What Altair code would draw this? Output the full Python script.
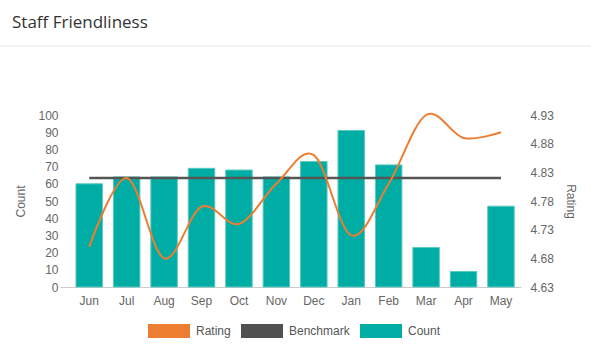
import altair as alt
import pandas as pd

months = ["Jun", "Jul", "Aug", "Sep", "Oct", "Nov", "Dec", "Jan", "Feb", "Mar", "Apr", "May"]
counts = [60, 64, 64, 69, 68, 64, 73, 91, 71, 23, 9, 47]
ratings = [4.70, 4.82, 4.68, 4.77, 4.74, 4.81, 4.86, 4.72, 4.81, 4.93, 4.89, 4.90]
benchmark = [4.82, 4.82, 4.82, 4.82, 4.82, 4.82, 4.82, 4.82, 4.82, 4.82, 4.82, 4.82]
count_ticks = [0, 10, 20, 30, 40, 50, 60, 70, 80, 90, 100]
rating_ticks = [4.63, 4.68, 4.73, 4.78, 4.83, 4.88, 4.93]
series = ["Rating", "Benchmark", "Count"]
series_colors = ["#ED7D31", "#505050", "#00ADA4"]

df = pd.DataFrame({"month": months, "count": counts, "rating": ratings, "benchmark": benchmark})

FONT = "Liberation Sans"
SHIFT = 4.6

x_enc = alt.X(
    "month:N",
    sort=months,
    scale=alt.Scale(paddingInner=0.292, paddingOuter=0.304),
    axis=alt.Axis(
        title=None, labelAngle=0, ticks=False, domainColor="#cccccc",
        labelPadding=8, labelColor="#666666", labelFont=FONT, labelFontSize=12,
        labelOffset=SHIFT,
    ),
)

bars = alt.Chart(df).mark_bar(
    color="#00ADA4", stroke="#5cc9c1", strokeWidth=1, xOffset=SHIFT
).encode(
    x=x_enc,
    y=alt.Y(
        "count:Q",
        scale=alt.Scale(domain=[0, 100], nice=False),
        axis=alt.Axis(
            title="Count", values=count_ticks, ticks=False, domain=False, grid=False,
            labelPadding=2, labelColor="#666666", labelFont=FONT, labelFontSize=12,
            labelOverlap=False,
            titleColor="#666666", titleFont=FONT, titleFontSize=12,
            titleFontWeight="normal", titlePadding=10,
        ),
    ),
)

rating_scale = alt.Scale(domain=[4.63, 4.93], nice=False, zero=False)
rating_axis = alt.Axis(
    orient="right", title="Rating", values=rating_ticks, format=".2f",
    ticks=False, domain=False, grid=False, labelPadding=9, labelOverlap=False,
    labelColor="#666666", labelFont=FONT, labelFontSize=12,
    titleColor="#666666", titleFont=FONT, titleFontSize=12,
    titleFontWeight="normal", titlePadding=10,
)

bench = alt.Chart(df).mark_line(
    color="#555555", strokeWidth=2.5, xOffset=SHIFT
).encode(
    x=alt.X("month:N", sort=months),
    y=alt.Y("benchmark:Q", scale=rating_scale, axis=rating_axis),
)

rating_line = alt.Chart(df).mark_line(
    color="#ED7D31", strokeWidth=2, interpolate="cardinal", xOffset=SHIFT
).encode(
    x=alt.X("month:N", sort=months),
    y=alt.Y("rating:Q", scale=rating_scale, axis=rating_axis),
)

right_layer = alt.layer(bench, rating_line)

separator = alt.Chart(alt.Data(values=[{"a": 1}])).mark_rule(
    color="#e6e6e6", strokeWidth=1
).encode(x=alt.value(-60), x2=alt.value(531), y=alt.value(-69))

legend_layer = alt.Chart(pd.DataFrame({"series": series})).transform_filter(
    "false"
).mark_point(filled=True, opacity=1).encode(
    color=alt.Color(
        "series:N",
        scale=alt.Scale(domain=series, range=series_colors),
        legend=alt.Legend(
            title=None, orient="none", legendX=88, legendY=195,
            direction="horizontal", columns=3,
            symbolType="M-1,-0.33L1,-0.33L1,0.33L-1,0.33Z", symbolSize=1764,
            symbolStrokeWidth=0, labelOffset=6, columnPadding=10, padding=0,
            labelFont=FONT, labelFontSize=12, labelColor="#555555",
        ),
    )
)

chart = alt.layer(bars, right_layer, separator, legend_layer).resolve_scale(
    y="independent"
).properties(
    width=461,
    height=172,
    title=alt.TitleParams(
        text="Staff Friendliness", anchor="start", frame="group", dx=-48,
        offset=1, baseline="alphabetic", font="Open Sans", fontSize=17,
        fontWeight="normal", color="#333333",
    ),
    autosize=alt.AutoSizeParams(type="none"),
    padding={"left": 60, "top": 115, "right": 70, "bottom": 66},
    background="white",
).configure_view(stroke=None)

chart.save("out.html", embed_options={"renderer": "svg", "actions": False})
